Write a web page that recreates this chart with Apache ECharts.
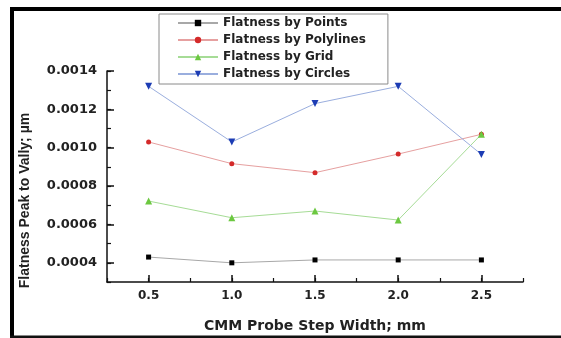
<!DOCTYPE html>
<html>
<head>
<meta charset="utf-8">
<script src="https://cdn.jsdelivr.net/npm/echarts@6/dist/echarts.min.js"></script>
<style>
html,body{margin:0;padding:0;background:#fff;}
#chart{width:561px;height:338px;}
</style>
</head>
<body>
<div id="chart"></div>
<script>
const xValues = [0.5, 1.0, 1.5, 2.0, 2.5];
const xTicks = [0.5, 1.0, 1.5, 2.0, 2.5];
const yTicks = [0.0004, 0.0006, 0.0008, 0.0010, 0.0012, 0.0014];
const seriesNames = ['Flatness by Points', 'Flatness by Polylines', 'Flatness by Grid', 'Flatness by Circles'];
const pointsVals = [0.00043, 0.000400, 0.000415, 0.000415, 0.000415];
const polylinesVals = [0.00103, 0.000917, 0.000870, 0.000967, 0.00107];
const gridVals = [0.000722, 0.000635, 0.000670, 0.000623, 0.00107];
const circlesVals = [0.00132, 0.00103, 0.00123, 0.00132, 0.000965];
const xTitle = 'CMM Probe Step Width; mm';
const yTitle = 'Flatness Peak to Vally; µm';

const FONT = 'DejaVu Sans';
const pair = vals => xValues.map((x, i) => [x, vals[i]]);

const chart = echarts.init(document.getElementById('chart'), null, {renderer: 'canvas'});

function mk(name, vals, symbol, size, lineColor, markColor, rotate) {
  return {
    name: name, type: 'line', data: pair(vals),
    symbol: symbol, symbolSize: size, symbolRotate: rotate || 0,
    showSymbol: true,
    lineStyle: {color: lineColor, width: 1},
    itemStyle: {color: markColor},
    emphasis: {disabled: true},
    animation: false,
    z: 3
  };
}

const option = {
  animation: false,
  backgroundColor: '#fff',
  grid: {left: 107, right: 38, top: 71, bottom: 55, containLabel: false},
  legend: {
    orient: 'vertical',
    left: 159, top: 14,
    padding: [3, 22, 4, 18],
    itemGap: 5,
    itemWidth: 40, itemHeight: 8,
    backgroundColor: '#fff',
    borderColor: '#8a8a8a', borderWidth: 1,
    textStyle: {fontFamily: FONT, fontWeight: 'bold', fontSize: 12, color: '#222'},
    data: seriesNames
  },
  xAxis: [{
    type: 'value', min: 0.25, max: 2.75,
    name: xTitle, nameLocation: 'middle', nameGap: 37,
    nameTextStyle: {fontFamily: FONT, fontWeight: 'bold', fontSize: 14, color: '#222'},
    axisLine: {show: true, lineStyle: {color: '#111', width: 1.5}},
    axisTick: {show: true, inside: true, length: 7, customValues: xTicks, lineStyle: {color: '#111', width: 1.5}},
    axisLabel: {customValues: xTicks, margin: 8, formatter: v => v.toFixed(1),
      fontFamily: FONT, fontWeight: 'bold', fontSize: 12, color: '#222'},
    splitLine: {show: false}
  }, {
    type: 'value', min: 0.25, max: 2.75, interval: 0.25, position: 'bottom', offset: 0,
    axisLine: {show: false},
    axisTick: {show: true, inside: true, length: 4, lineStyle: {color: '#111', width: 1.2}},
    axisLabel: {show: false},
    splitLine: {show: false}
  }],
  yAxis: [{
    type: 'value', min: 0.0003, max: 0.0014,
    name: yTitle, nameLocation: 'middle', nameGap: 75, nameRotate: 90,
    nameTextStyle: {fontFamily: 'Liberation Sans', fontWeight: 'bold', fontSize: 14, color: '#222', padding: [0, 48, 0, 0]},
    axisLine: {show: true, lineStyle: {color: '#111', width: 1.5}},
    axisTick: {show: true, inside: true, length: 7, customValues: yTicks, lineStyle: {color: '#111', width: 1.5}},
    axisLabel: {customValues: yTicks, margin: 10, formatter: v => v.toFixed(4),
      fontFamily: FONT, fontWeight: 'bold', fontSize: 13, color: '#222'},
    splitLine: {show: false}
  }, {
    type: 'value', min: 0.0003, max: 0.0014, interval: 0.0001, position: 'left', offset: 0,
    axisLine: {show: false},
    axisTick: {show: true, inside: true, length: 4, lineStyle: {color: '#111', width: 1.2}},
    axisLabel: {show: false},
    splitLine: {show: false}
  }],
  graphic: [
    {type: 'rect', shape: {x: 10, y: 7, width: 551, height: 4}, style: {fill: '#000'}, silent: true},
    {type: 'rect', shape: {x: 10, y: 7, width: 4, height: 331}, style: {fill: '#000'}, silent: true},
    {type: 'rect', shape: {x: 10, y: 335.5, width: 551, height: 2.5}, style: {fill: '#111'}, silent: true}
  ],
  series: [
    mk(seriesNames[0], pointsVals, 'rect', 5, '#a8a8a8', '#000'),
    mk(seriesNames[1], polylinesVals, 'circle', 5, '#e6a0a0', '#d42a2a'),
    mk(seriesNames[2], gridVals, 'triangle', 7, '#a6dc96', '#6cc840'),
    mk(seriesNames[3], circlesVals, 'triangle', 7, '#9aaede', '#1c3cb4', 180)
  ]
};
chart.setOption(option);
</script>
</body>
</html>
